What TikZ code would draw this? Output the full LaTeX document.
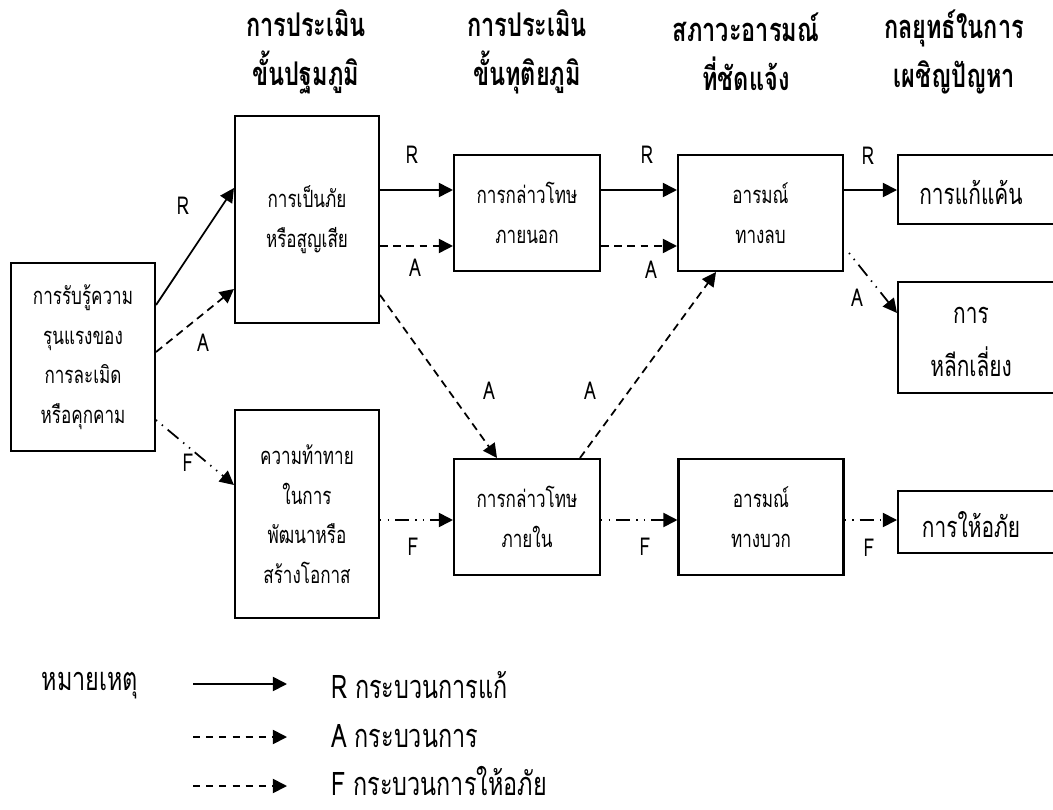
\documentclass[tikz,border=0pt]{standalone}
\usepackage{fontspec}
\newfontfamily\thai[Script=Thai, FakeStretch=0.72]{Loma}
\usetikzlibrary{arrows.meta, positioning}
\tikzstyle{stagebox} = [rectangle, draw=black, line width=1.2pt, inner sep=0pt, align=center, font=\thai\fontsize{13.5}{22.5}\selectfont]
\tikzstyle{stratbox} = [rectangle, draw=black, line width=1.2pt, minimum width=4cm, anchor=west]
\tikzstyle{strattext} = [align=center, inner sep=0pt, font=\thai\fontsize{16.5}{30}\selectfont]
\tikzstyle{heading} = [align=center, font=\thai\bfseries\fontsize{18.6}{27.8}\selectfont]
\tikzstyle{proc} = [inner sep=0pt, font=\thai\fontsize{14}{15}\selectfont]
\tikzstyle{legend} = [inner sep=0pt, font=\thai\fontsize{18.5}{20}\selectfont]
\tikzstyle{arrow} = [line width=1pt, -{Triangle[length=8pt, width=8pt]}]
\tikzstyle{rline} = [arrow]
\tikzstyle{aline} = [arrow, dash pattern=on 4.5pt off 3pt]
\tikzstyle{fline} = [arrow, dash pattern=on 0.8pt off 3.5pt on 0.8pt off 3.5pt on 8pt off 3.5pt]
\tikzstyle{keyline} = [arrow, dash pattern=on 4pt off 3.5pt]

\begin{document}
\begin{tikzpicture}[x=0.02cm, y=-0.02cm]
\useasboundingbox (0,0) rectangle (1053,810);

% column headings
\node (head1) [heading] at (306,52) {การประเมิน\\ขั้นปฐมภูมิ};
\node (head2) [heading] at (527,52) {การประเมิน\\ขั้นทุติยภูมิ};
\node (head3) [heading] at (746,52) {สภาวะอารมณ์\\ที่ชัดแจ้ง};
\node (head4) [heading] at (954,52) {กลยุทธ์ในการ\\เผชิญปัญหา};

% stages
\node (src) [stagebox, minimum width=2.88cm, minimum height=3.76cm] at (83,357) {การรับรู้ความ\\รุนแรงของ\\การละเมิด\\หรือคุกคาม};
\node (threat) [stagebox, minimum width=2.88cm, minimum height=4.14cm] at (307,219.5) {การเป็นภัย\\หรือสูญเสีย};
\node (challenge) [stagebox, minimum width=2.88cm, minimum height=4.16cm] at (307,514) {ความท้าทาย\\ในการ\\พัฒนาหรือ\\สร้างโอกาส};
\node (extblame) [stagebox, minimum width=2.92cm, minimum height=2.32cm] at (527,213) {การกล่าวโทษ\\ภายนอก};
\node (intblame) [stagebox, minimum width=2.92cm, minimum height=2.32cm] at (527,517) {การกล่าวโทษ\\ภายใน};
\node (neg) [stagebox, minimum width=3.3cm, minimum height=2.32cm] at (760.5,213) {อารมณ์\\ทางลบ};
\node (pos) [stagebox, minimum width=3.3cm, minimum height=2.32cm] at (761,517) {อารมณ์\\ทางบวก};

% strategies (open to the right)
\node (revenge) [stratbox, minimum height=1.38cm] at (897,189.5) {};
\node (avoid) [stratbox, minimum height=2.22cm] at (897,337.5) {};
\node (forgive) [stratbox, minimum height=1.24cm] at (897,522) {};
\node (revengetxt) [strattext] at (971,192) {การแก้แค้น};
\node (avoidtxt) [strattext] at (971,342) {การ\\หลีกเลี่ยง};
\node (forgivetxt) [strattext] at (971,525) {การให้อภัย};

% connectors
\draw [rline] ([yshift=1.04cm]src.east) -- ([yshift=0.63cm]threat.west);
\draw [aline] ([yshift=0.1cm]src.east) -- ([yshift=-1.39cm]threat.west);
\draw [fline] ([yshift=-1.26cm]src.east) -- ([yshift=0.58cm]challenge.west);
\draw [rline] ([yshift=0.46cm]extblame.west -| threat.east) -- ([yshift=0.46cm]extblame.west);
\draw [aline] ([yshift=-0.66cm]extblame.west -| threat.east) -- ([yshift=-0.66cm]extblame.west);
\draw [aline] ([yshift=-1.51cm]threat.east) -- ([xshift=-0.6cm]intblame.north);
\draw [fline] ([yshift=-0.06cm]intblame.west -| challenge.east) -- ([yshift=-0.06cm]intblame.west);
\draw [rline] ([yshift=0.46cm]neg.west -| extblame.east) -- ([yshift=0.46cm]neg.west);
\draw [aline] ([yshift=-0.66cm]neg.west -| extblame.east) -- ([yshift=-0.66cm]neg.west);
\draw [aline] ([xshift=1.06cm]intblame.north) -- ([xshift=-0.89cm]neg.south);
\draw [fline] ([yshift=-0.06cm]pos.west -| intblame.east) -- ([yshift=-0.06cm]pos.west);
\draw [rline] ([yshift=0.46cm]neg.east) -- ([yshift=0.46cm]neg.east -| revenge.west);
\draw [fline] ([xshift=0.1cm, yshift=-0.8cm]neg.east) -- ([yshift=0.49cm]avoid.west);
\draw [fline] ([yshift=-0.06cm]pos.east) -- ([yshift=-0.06cm]pos.east -| forgive.west);

% process letters
\node (lr1) [proc] at (183,206) {R};
\node (la1) [proc] at (203,343) {A};
\node (lf1) [proc] at (188,463) {F};
\node (lr2) [proc] at (412,155) {R};
\node (la2) [proc] at (415,268) {A};
\node (la3) [proc] at (489,391) {A};
\node (lf2) [proc] at (413,547) {F};
\node (lr3) [proc] at (647,155) {R};
\node (la4) [proc] at (651,270) {A};
\node (la5) [proc] at (590,391) {A};
\node (lf3) [proc] at (645,547) {F};
\node (lr4) [proc] at (868,156) {R};
\node (la6) [proc] at (857,298) {A};
\node (lf4) [proc] at (869,548) {F};

% legend
\node (note) [legend] at (90,686) {หมายเหตุ};
\coordinate (keyRa) at (193,684); \coordinate (keyRb) at (287,684);
\coordinate (keyAa) at (193,737); \coordinate (keyAb) at (287,737);
\coordinate (keyFa) at (193,786); \coordinate (keyFb) at (287,786);
\draw [rline] (keyRa) -- (keyRb);
\draw [keyline] (keyAa) -- (keyAb);
\draw [keyline] (keyFa) -- (keyFb);
\node (keyRtxt) [legend, anchor=west] at (331,685) {R กระบวนการแก้};
\node (keyAtxt) [legend, anchor=west] at (331,736) {A กระบวนการ};
\node (keyFtxt) [legend, anchor=west] at (331,781) {F กระบวนการให้อภัย};
\end{tikzpicture}
\end{document}
